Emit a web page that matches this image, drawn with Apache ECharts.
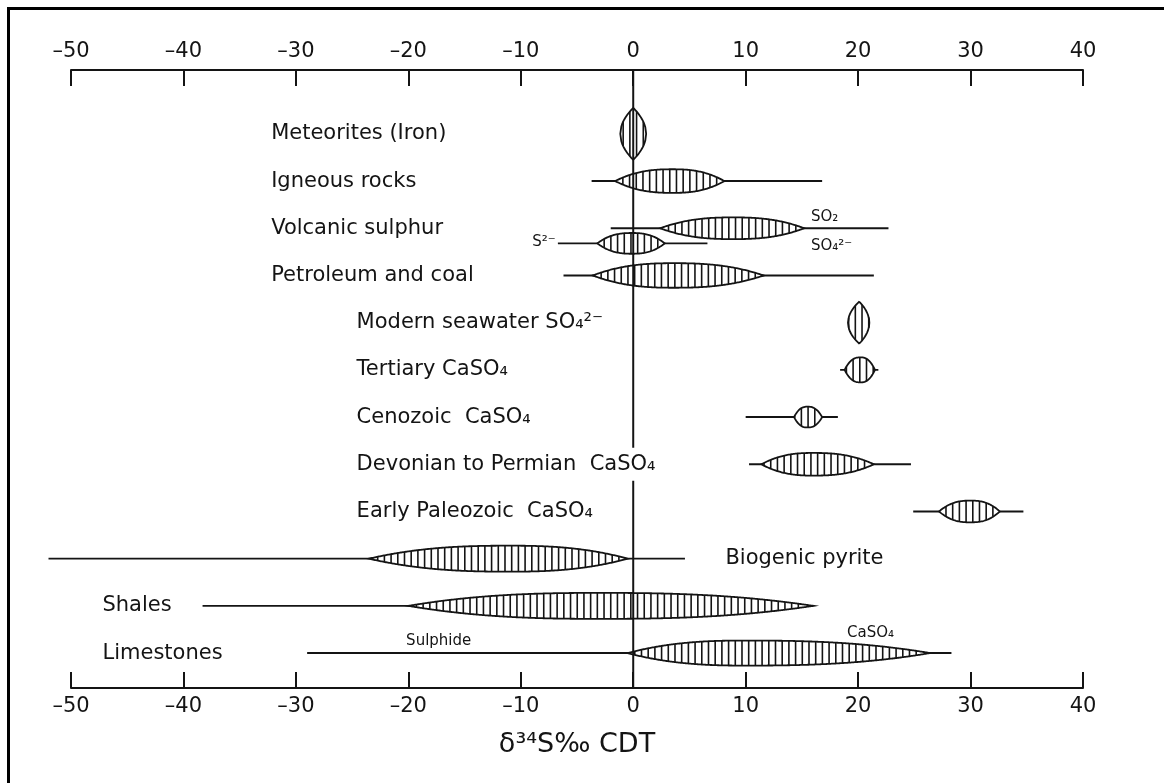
<!DOCTYPE html>
<html>
<head>
<meta charset="utf-8">
<script src="https://cdn.jsdelivr.net/npm/echarts@6/dist/echarts.min.js"></script>
<style>
html,body{margin:0;padding:0;background:#fff;}
#chart{width:1164px;height:783px;}
</style>
</head>
<body>
<div id="chart"></div>
<script>
// ---------------- data ----------------
const rowLabels = [
  'Meteorites (Iron)',
  'Igneous rocks',
  'Volcanic sulphur',
  'Petroleum and coal',
  'Modern seawater SO\u2084\u00B2\u207B',
  'Tertiary CaSO\u2084',
  'Cenozoic  CaSO\u2084',
  'Devonian to Permian  CaSO\u2084',
  'Early Paleozoic  CaSO\u2084',
  'Biogenic pyrite',
  'Shales',
  'Limestones'
];

// one entry per distribution (lens)
const lensRow    = [0, 1, 2, 2, 3, 4, 5, 6, 7, 8, 9, 10, 11];
const lensLane   = [0, 0, 0, 1, 0, 0, 0, 0, 0, 0, 0, 0, 0];
const rangeLow   = [-1.15, -3.7, -2.0, -6.7, -6.2, 19.1, 18.4, 10.0, 10.3, 24.9, -52.0, -38.3, -29.0];
const rangeHigh  = [ 1.15, 16.8, 22.7,  6.6, 21.4, 21.0, 21.8, 18.2, 24.7, 34.7,   4.6,  16.0,  28.3];
const bodyLow    = [-1.15, -1.6,  2.4, -3.2, -3.6, 19.1, 18.8, 14.3, 11.4, 27.2, -23.5, -20.0,  -0.5];
const bodyPeak   = [ 0.0,   3.5,  8.9, -0.1,  3.6, 20.1, 20.2, 15.5, 16.0, 30.0, -11.0,  -3.0,  10.0];
const bodyHigh   = [ 1.15,  8.1, 15.2,  2.8, 11.6, 21.0, 21.5, 16.8, 21.4, 32.6,  -0.5,  16.0,  26.4];
const bodyHeight = [0.55, 0.25, 0.23, 0.22, 0.26, 0.445, 0.265, 0.22, 0.24, 0.23, 0.275, 0.275, 0.265];

// small annotations
const noteText  = ['SO\u2082', 'SO\u2084\u00B2\u207B', 'S\u00B2\u207B', 'Sulphide', 'CaSO\u2084'];
const noteValue = [15.8, 15.8, -6.9, -17.3, 21.1];
const noteRow   = [2, 2, 2, 11, 11];

const xTicks = { min: -50, max: 40, step: 10 };
const axisTitle = '\u03B4\u00B3\u2074S\u2030 CDT';

// ---------------- layout (not data) ----------------
const FONT = '"DejaVu Sans", "Liberation Sans", sans-serif';
const INK = '#141414';
const LANE_GAP = 0.32;
const labelAnchor = [-32.2, -32.2, -32.2, -32.2, -24.6, -24.6, -24.6, -24.6, -24.6, 8.2, -47.2, -47.2];
const noteLayout = [
  { lane: 0, dy: -11, align: 'left' },
  { lane: 0, dy: 18, align: 'left' },
  { lane: 1, dy: -1, align: 'right' },
  { lane: 0, dy: -12, align: 'center' },
  { lane: 0, dy: -20, align: 'center' }
];

const lensData = lensRow.map((r, i) => [
  rangeLow[i], rangeHigh[i], bodyLow[i], bodyPeak[i], bodyHigh[i], bodyHeight[i], r, lensLane[i]
]);

function renderLens(params, api) {
  const lo = api.value(0), hi = api.value(1);
  const bl = api.value(2), pk = api.value(3), bh = api.value(4);
  const ht = api.value(5);
  const row = api.value(6) + api.value(7) * LANE_GAP;
  const yc = api.coord([0, row])[1];
  const xL = api.coord([lo, row])[0], xR = api.coord([hi, row])[0];
  const a = api.coord([bl, row])[0], p = api.coord([pk, row])[0], b = api.coord([bh, row])[0];
  const H = Math.abs(api.size([0, ht])[1]);
  const vertical = H > (b - a) / 2;
  const prof = (x) => {
    let t = x < p ? (p - x) / Math.max(1e-6, p - a) : (x - p) / Math.max(1e-6, b - p);
    t = Math.min(1, Math.max(0, t));
    return vertical ? H * Math.sqrt(1 - t) : H * (1 - Math.pow(t, 2.5));
  };
  const top = [], bot = [];
  for (let x = a; x < b; x += 1) { const h = prof(x); top.push([x, yc - h]); bot.push([x, yc + h]); }
  top.push([b, yc]); bot.push([b, yc]);
  const pts = top.concat(bot.reverse());
  const children = [];
  if (xR - xL > 0.5) {
    children.push({ type: 'line', shape: { x1: xL, y1: yc, x2: xR, y2: yc }, style: { stroke: INK, lineWidth: 1.9 } });
  }
  children.push({ type: 'polygon', shape: { points: pts }, style: { fill: '#fff', stroke: INK, lineWidth: 1.8 } });
  const step = 6.7;
  const n = Math.floor((b - a) / step);
  const start = a + ((b - a) - n * step) / 2;
  for (let k = 0; k <= n; k++) {
    const x = start + k * step;
    const h = prof(x);
    if (h < 1.2) continue;
    children.push({ type: 'line', shape: { x1: x, y1: yc - h, x2: x, y2: yc + h }, style: { stroke: INK, lineWidth: 1.6 } });
  }
  return { type: 'group', children };
}

function renderZero(params, api) {
  const cs = params.coordSys;
  const x = api.coord([0, 0])[0];
  return { type: 'line', shape: { x1: x, y1: cs.y, x2: x, y2: cs.y + cs.height }, style: { stroke: INK, lineWidth: 2 } };
}

function renderRowLabel(params, api) {
  const pt = api.coord([api.value(0), api.value(1)]);
  return {
    type: 'text', x: pt[0] - 4, y: pt[1],
    style: {
      text: rowLabels[params.dataIndex], fill: INK, fontSize: 21, fontFamily: FONT,
      align: 'left', verticalAlign: 'middle', backgroundColor: '#fff', padding: [6, 4]
    }
  };
}

function renderNote(params, api) {
  const i = params.dataIndex;
  const L = noteLayout[i];
  const pt = api.coord([api.value(0), api.value(1) + L.lane * LANE_GAP]);
  return {
    type: 'text', x: pt[0], y: pt[1] + L.dy,
    style: { text: noteText[i], fill: INK, fontSize: 15, fontFamily: FONT, align: L.align, verticalAlign: 'middle' }
  };
}

const tickFmt = (v) => (v < 0 ? '\u2013' + (-v) : String(v));
const xAxisBase = {
  type: 'value', min: xTicks.min, max: xTicks.max, interval: xTicks.step,
  axisLine: { onZero: false, lineStyle: { color: INK, width: 2 } },
  axisTick: { inside: true, length: 16, lineStyle: { color: INK, width: 2 } },
  axisLabel: { formatter: tickFmt, fontSize: 21, fontFamily: FONT, color: INK, margin: 8 },
  splitLine: { show: false }
};

const option = {
  animation: false,
  backgroundColor: '#fff',
  grid: { left: 71, right: 81, top: 70, bottom: 95 },
  xAxis: [
    Object.assign({}, xAxisBase, { position: 'top' }),
    Object.assign({}, xAxisBase, {
      position: 'bottom', name: axisTitle, nameLocation: 'middle', nameGap: 43,
      nameTextStyle: { fontSize: 27, fontFamily: FONT, color: INK }
    })
  ],
  yAxis: { type: 'value', inverse: true, min: -1.353, max: 11.74, show: false, axisLine: { onZero: false } },
  graphic: [{
    type: 'rect', left: 6, top: 6, z: 100,
    shape: { x: 0, y: 0, width: 1400, height: 1000 },
    style: { fill: 'none', stroke: '#000', lineWidth: 3 }
  }],
  series: [
    { type: 'custom', name: 'lenses', xAxisIndex: 1, z: 2, renderItem: renderLens, data: lensData,
      encode: { x: [0, 1], y: 6 }, silent: true },
    { type: 'custom', name: 'zero', xAxisIndex: 1, z: 3, renderItem: renderZero, data: [[0, 0]], silent: true },
    { type: 'custom', name: 'rowLabels', xAxisIndex: 1, z: 4, renderItem: renderRowLabel,
      data: rowLabels.map((_, i) => [labelAnchor[i], i]), silent: true },
    { type: 'custom', name: 'notes', xAxisIndex: 1, z: 4, renderItem: renderNote,
      data: noteText.map((_, i) => [noteValue[i], noteRow[i]]), silent: true }
  ]
};

const chart = echarts.init(document.getElementById('chart'), null, { renderer: 'canvas' });
chart.setOption(option);
</script>
</body>
</html>
